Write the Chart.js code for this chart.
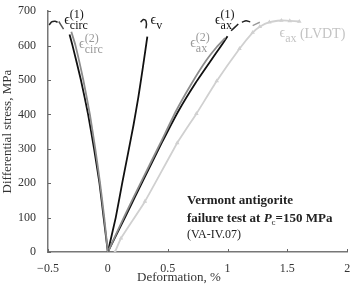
<!DOCTYPE html>
<html>
<head>
<meta charset="utf-8">
<script src="https://cdn.jsdelivr.net/npm/chart.js@4.4.1/dist/chart.umd.min.js"></script>
<style>
  html, body { margin: 0; padding: 0; background: #fff; }
  #chart { display: block; }
</style>
</head>
<body>
<canvas id="chart" width="353" height="286"></canvas>
<script>
// axis ticks
const xTicks = [-0.5, 0, 0.5, 1, 1.5, 2];
const yTicks = [0, 100, 200, 300, 400, 500, 600, 700];

// circumferential strain, gauge 1 and 2 (%), vs differential stress (MPa)
const circ1X = [0, -0.035, -0.07, -0.115, -0.165, -0.225, -0.295, -0.32];
const circ1Y = [0, 100, 200, 300, 400, 500, 600, 632];
const circ1TailX = [-0.49, -0.47, -0.44, -0.42];
const circ1TailY = [660, 669, 671, 668];
const circ2X = [0, -0.03, -0.065, -0.105, -0.15, -0.205, -0.27, -0.305];
const circ2Y = [0, 100, 200, 300, 400, 500, 600, 640];
const circ2TailX = [-0.41, -0.37];
const circ2TailY = [670, 648];

// volumetric strain
const volX = [0, 0.066, 0.12, 0.17, 0.215, 0.255, 0.29, 0.315, 0.33];
const volY = [0, 100, 200, 289, 370, 450, 530, 590, 626];
const volTailX = [0.274, 0.296, 0.315, 0.323, 0.318];
const volTailY = [668, 676, 674, 662, 650];

// axial strain, gauge 1 and 2
const ax1X = [0, 0.15, 0.3, 0.45, 0.59, 0.73, 0.86, 0.94, 1.0];
const ax1Y = [0, 105, 212, 317, 410, 490, 556, 596, 627];
const ax1TailX = [1.03, 1.09, null, 1.12, 1.155, 1.19];
const ax1TailY = [643, 663, null, 668, 672, 669];
const ax2X = [0, 0.14, 0.29, 0.44, 0.57, 0.7, 0.82, 0.91, 0.98];
const ax2Y = [0, 105, 212, 317, 410, 490, 556, 596, 622];
const ax2TailX = [1.21, 1.27];
const ax2TailY = [658, 668];

// axial strain from LVDT
const lvdtX = [0.06, 0.11, 0.31, 0.58, 0.74, 0.91, 1.1, 1.21, 1.27, 1.35, 1.45, 1.52, 1.6];
const lvdtY = [0, 40, 147, 317, 402, 497, 591, 638, 655, 668, 673, 672, 670];

// curve labels: [x, y] anchor in data units, sup, sub, colour
const curveLabels = [
  { at: [-0.365, 663], sup: '(1)', sub: 'circ', color: '#111' },
  { at: [-0.24, 592], sup: '(2)', sub: 'circ', color: '#999' },
  { at: [0.357, 663], sup: '', sub: 'v', color: '#111' },
  { at: [0.895, 663], sup: '(1)', sub: 'ax', color: '#111' },
  { at: [0.688, 595], sup: '(2)', sub: 'ax', color: '#999' },
  { at: [1.434, 626], sup: '', sub: 'ax', color: '#c4c4c4', tail: ' (LVDT)' }
];

const SERIF = '"Liberation Serif", "DejaVu Serif", "Times New Roman", serif';

function pts(xs, ys) {
  return xs.map((x, i) => ({ x: x === null ? NaN : x, y: ys[i] === null ? NaN : ys[i] }));
}

function line(xs, ys, color, width, extra) {
  return Object.assign({
    data: pts(xs, ys),
    showLine: true,
    borderColor: color,
    backgroundColor: color,
    borderWidth: width,
    pointRadius: 0,
    tension: 0.15,
    spanGaps: false
  }, extra || {});
}

const decor = {
  id: 'decor',
  afterDraw(chart) {
    const ctx = chart.ctx;
    const xs = chart.scales.x, ys = chart.scales.y;
    const area = chart.chartArea;
    ctx.save();

    // inward ticks
    ctx.strokeStyle = '#666';
    ctx.lineWidth = 1;
    ctx.beginPath();
    xTicks.forEach(v => {
      const px = Math.round(xs.getPixelForValue(v)) + 0.5;
      ctx.moveTo(px, area.bottom);
      ctx.lineTo(px, area.bottom - 3);
    });
    yTicks.forEach(v => {
      const py = Math.round(ys.getPixelForValue(v)) + 0.5;
      ctx.moveTo(area.left, py);
      ctx.lineTo(area.left + 3, py);
    });
    ctx.stroke();

    // axis titles
    ctx.fillStyle = '#333';
    ctx.font = '13px ' + SERIF;
    ctx.textAlign = 'center';
    ctx.textBaseline = 'middle';
    ctx.fillText('Deformation, %', 179, 278);
    ctx.save();
    ctx.translate(8, (area.top + area.bottom) / 2);
    ctx.rotate(-Math.PI / 2);
    ctx.fillText('Differential stress, MPa', 0, 0);
    ctx.restore();

    // curve labels
    ctx.textAlign = 'left';
    ctx.textBaseline = 'alphabetic';
    curveLabels.forEach(l => {
      const x = xs.getPixelForValue(l.at[0]);
      const y = ys.getPixelForValue(l.at[1]);
      ctx.fillStyle = l.color;
      ctx.font = '14px ' + SERIF;
      ctx.fillText('\u03f5', x, y);
      const w = ctx.measureText('\u03f5').width;
      ctx.font = '12px ' + SERIF;
      let end = x + w;
      if (l.sup) {
        ctx.fillText(l.sup, x + w, y - 6);
        end = Math.max(end, x + w + ctx.measureText(l.sup).width);
      }
      ctx.fillText(l.sub, x + w, y + 5);
      end = Math.max(end, x + w + ctx.measureText(l.sub).width);
      if (l.tail) {
        ctx.font = '14px ' + SERIF;
        ctx.fillText(l.tail, end, y + 1);
      }
    });

    // sample annotation
    ctx.fillStyle = '#222';
    const tx = 187;
    ctx.font = 'bold 13px ' + SERIF;
    ctx.fillText('Vermont antigorite', tx, 204);
    let cx = tx;
    const part1 = 'failure test at ';
    ctx.fillText(part1, cx, 222);
    cx += ctx.measureText(part1).width;
    ctx.font = 'italic bold 13px ' + SERIF;
    ctx.fillText('P', cx, 222);
    cx += ctx.measureText('P').width;
    ctx.font = '9px ' + SERIF;
    ctx.fillText('c', cx, 225);
    cx += ctx.measureText('c').width;
    ctx.font = 'bold 13px ' + SERIF;
    ctx.fillText('=150 MPa', cx, 222);
    ctx.font = '12px ' + SERIF;
    ctx.fillText('(VA-IV.07)', tx, 238);

    ctx.restore();
  }
};

new Chart(document.getElementById('chart'), {
  type: 'scatter',
  data: {
    datasets: [
      line(lvdtX, lvdtY, '#d0d0d0', 1.8, { pointRadius: 0.8, pointStyle: 'triangle' }),
      line(circ2X, circ2Y, '#8c8c8c', 1.8),
      line(circ2TailX, circ2TailY, '#555', 1.5),
      line(ax2X, ax2Y, '#8c8c8c', 1.8),
      line(ax2TailX, ax2TailY, '#9a9a9a', 1.5),
      line(circ1X, circ1Y, '#111', 1.8),
      line(circ1TailX, circ1TailY, '#222', 1.5),
      line(volX, volY, '#111', 1.8),
      line(volTailX, volTailY, '#222', 1.5),
      line(ax1X, ax1Y, '#111', 1.8),
      line(ax1TailX, ax1TailY, '#222', 1.5)
    ]
  },
  options: {
    responsive: false,
    animation: false,
    devicePixelRatio: 1,
    layout: { padding: { top: 5, right: 4, left: 0, bottom: 0 } },
    plugins: { legend: { display: false }, tooltip: { enabled: false } },
    scales: {
      x: {
        type: 'linear',
        min: -0.5,
        max: 2,
        afterBuildTicks: s => { s.ticks = xTicks.map(v => ({ value: v })); },
        afterFit: s => { s.height = 34; },
        grid: { display: false },
        border: { display: true, color: '#777', width: 1.5 },
        ticks: {
          padding: 2,
          color: '#333',
          font: { family: SERIF, size: 12 },
          callback: v => String(v).replace('-', '\u2212')
        }
      },
      y: {
        type: 'linear',
        min: 0,
        max: 700,
        afterBuildTicks: s => { s.ticks = yTicks.map(v => ({ value: v })); },
        afterFit: s => { s.width = 48; },
        grid: { display: false },
        border: { display: true, color: '#777', width: 1.5 },
        ticks: {
          padding: 4,
          color: '#333',
          font: { family: SERIF, size: 12 }
        }
      }
    }
  },
  plugins: [decor]
});
</script>
</body>
</html>
